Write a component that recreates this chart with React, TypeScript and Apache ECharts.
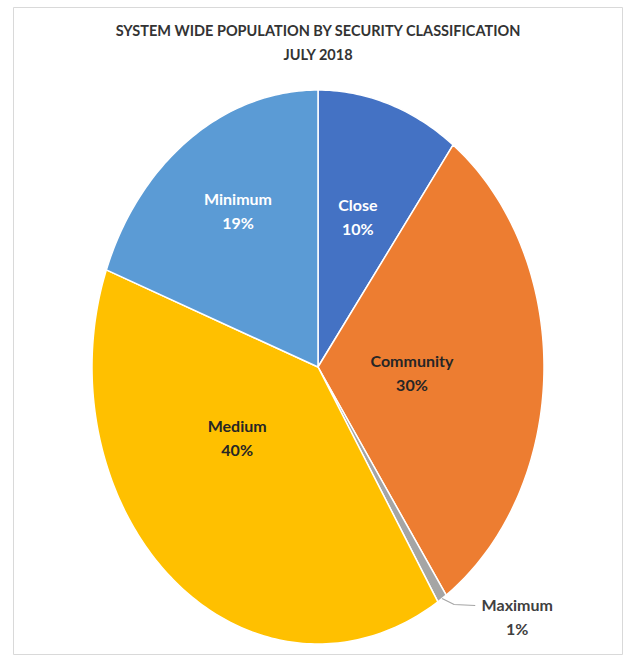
import React, { useEffect, useRef } from "react";
import * as echarts from "echarts";

const titleLines = ["SYSTEM WIDE POPULATION BY SECURITY CLASSIFICATION", "JULY 2018"];
const categories = ["Close", "Community", "Maximum", "Medium", "Minimum"];
const values = [10.2, 30.2, 0.7, 39.6, 19.3];
const colors = ["#4472C4", "#ED7D31", "#A5A5A5", "#FFC000", "#5B9BD5"];
const labelColors = ["#ffffff", "#262626", "#404040", "#262626", "#ffffff"];
// label placement in elliptical polar terms: angle (deg, clockwise from top) and radius fraction
const labelAngles = [18, 92.5, 135.6, 234.4, 328];
const labelRadii = [0.57, 0.416, 1.26, 0.44, 0.668];

const CX = 318;
const CY = 367;
const RX = 226;
const RY = 277;
const FONT = "Lato, 'Open Sans', sans-serif";

export default function App() {
  const ref = useRef<HTMLDivElement>(null);
  useEffect(() => {
    if (!ref.current) return;
    const chart = echarts.init(ref.current, undefined, { renderer: "svg" });
    const total = values.reduce((a, b) => a + b, 0);
    const cum: number[] = [];
    let acc = 0;
    values.forEach((v) => {
      cum.push(acc);
      acc += v;
    });
    const pt = (deg: number, r: number) => {
      const a = (deg * Math.PI) / 180;
      return [CX + r * RX * Math.sin(a), CY - r * RY * Math.cos(a)];
    };
    const renderItem = (params: any, api: any) => {
      const i = params.dataIndex;
      const v = api.value(0);
      const start = (cum[i] / total) * 360;
      const end = start + (v / total) * 360;
      const pts: number[][] = [[CX, CY]];
      const steps = Math.max(2, Math.ceil(end - start));
      for (let k = 0; k <= steps; k++) {
        pts.push(pt(start + ((end - start) * k) / steps, 1));
      }
      const pct = Math.round((v / total) * 100);
      const lp = pt(labelAngles[i], labelRadii[i]);
      const children: any[] = [
        {
          type: "polygon",
          shape: { points: pts },
          style: { fill: colors[i], stroke: "#ffffff", lineWidth: 1.5, lineJoin: "round" },
        },
        {
          type: "text",
          x: lp[0],
          y: lp[1],
          style: {
            text: categories[i] + "\n" + pct + "%",
            fill: labelColors[i],
            font: "bold 16px " + FONT,
            lineHeight: 24,
            align: "center",
            verticalAlign: "middle",
          },
        },
      ];
      if (labelRadii[i] > 1) {
        const mid = (start + end) / 2;
        const e = pt(mid, 1);
        children.push({
          type: "polyline",
          shape: { points: [e, [e[0] + 12, e[1] + 6], [lp[0] - 42, e[1] + 7]] },
          style: { stroke: "#A5A5A5", lineWidth: 1.2, fill: null },
        });
      }
      return { type: "group", children };
    };
    chart.setOption({
      animation: false,
      backgroundColor: "#ffffff",
      graphic: [
        {
          type: "rect",
          shape: { x: 13.5, y: 7.5, width: 609, height: 647 },
          style: { fill: "none", stroke: "#d9d9d9", lineWidth: 1 },
          z: -1,
        },
        {
          type: "text",
          x: 318,
          y: 30,
          style: {
            text: titleLines[0],
            fill: "#333333",
            font: "bold 14.5px " + FONT,
            align: "center",
            verticalAlign: "middle",
          },
        },
        {
          type: "text",
          x: 318,
          y: 54,
          style: {
            text: titleLines[1],
            fill: "#333333",
            font: "bold 14.5px " + FONT,
            align: "center",
            verticalAlign: "middle",
          },
        },
      ],
      series: [
        {
          type: "custom",
          coordinateSystem: "none",
          renderItem,
          data: values.map((v, i) => ({ name: categories[i], value: [v] })),
        },
      ],
    });
    return () => chart.dispose();
  }, []);
  return (
    <div
      ref={ref}
      style={{ position: "fixed", left: 0, top: 0, width: 626, height: 658 }}
    />
  );
}
